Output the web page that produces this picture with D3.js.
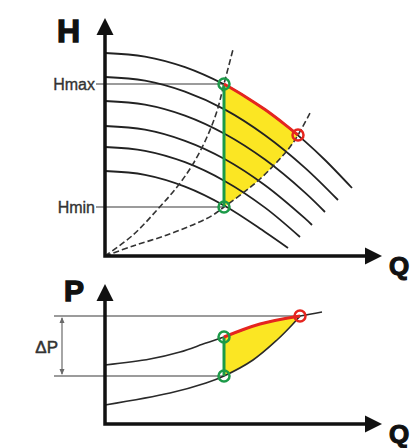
<!DOCTYPE html>
<html>
<head>
<meta charset="utf-8">
<script src="https://cdn.jsdelivr.net/npm/d3@7"></script>
<style>
  body { margin: 0; background: #fff; }
  text { font-family: "Liberation Sans", Arial, sans-serif; }
</style>
</head>
<body>
<div id="chart"></div>
<script>
// pump curves at six speeds, [Q, H]
var speedCurves = [
    [[0, 10.15], [2, 9.97], [4, 9.44], [6, 8.56], [7, 7.98], [8, 7.32], [9, 6.57], [10, 5.73], [11, 4.8], [12.35, 3.4]],
    [[0, 8.95], [2, 8.77], [4, 8.22], [6, 7.32], [8, 6.04], [10, 4.41], [11.65, 2.8]],
    [[0, 7.75], [2, 7.57], [4, 7.02], [6, 6.10], [8, 4.82], [10, 3.17], [11.0, 2.2]],
    [[0, 6.5], [2, 6.32], [4, 5.76], [6, 4.84], [8, 3.54], [10, 1.88], [10.35, 1.55]],
    [[0, 5.45], [2, 5.26], [4, 4.69], [6, 3.74], [8, 2.42], [9.75, 0.95]],
    [[0, 4.25], [2, 4.06], [4, 3.47], [6, 2.5], [8, 1.2], [9.15, 0.4]]
];
// system curves (dashed)
var steepSystem = [[0, 0], [1.4, 1.05], [2.6, 2.3], [3.6, 3.45], [4.4, 4.6], [5.1, 5.95], [5.6, 7.25], [5.95, 8.6], [6.42, 10.4]];
var flatSystem = [[0, 0], [1.4, 0.5], [3.1, 1.05], [4.6, 1.65], [5.4, 2.05], [5.95, 2.45], [6.9, 3.15], [7.75, 3.85], [8.6, 4.7], [9.25, 5.45], [9.65, 6.05], [10.25, 7.15]];
// max speed arc between Hmax point and red point
var maxArc = [[5.95, 8.6], [7, 7.98], [8, 7.32], [9, 6.57], [9.65, 6.05]];
var hmaxPt = [5.95, 8.6], hminPt = [5.95, 2.45], redPt = [9.65, 6.05];
var hLabels = ["Hmax", "Hmin"];

// power curves, [Q, P]
var powerMax = [[0, 2.95], [2.25, 3.25], [3.75, 3.6], [5.05, 4.05], [5.95, 4.35], [7.75, 5.0], [9.75, 5.4], [10.85, 5.6]];
var powerMin = [[0, 0.95], [3.25, 1.55], [5.05, 2.05], [5.95, 2.4], [7.4, 3.2], [8.6, 4.2], [9.35, 4.95], [9.75, 5.4]];
var pTopPt = [5.95, 4.35], pBotPt = [5.95, 2.4], pRedPt = [9.75, 5.4];

var GREEN = "#1c9a48", RED = "#e5251f", YELLOW = "#fbe623";

var svg = d3.select("#chart").append("svg")
    .attr("width", 412)
    .attr("height", 448);

var x = d3.scaleLinear().domain([0, 13]).range([105, 365]);
var yH = d3.scaleLinear().domain([0, 11]).range([256, 36]);
var yP = d3.scaleLinear().domain([0, 7]).range([424, 284]);

function lineFor(y) {
    return d3.line()
        .x(function(d) { return x(d[0]); })
        .y(function(d) { return y(d[1]); })
        .curve(d3.curveCatmullRom.alpha(0.5));
}
var lineH = lineFor(yH), lineP = lineFor(yP);

function inRange(arr, a, b) {
    return arr.filter(function(d) { return d[0] >= a[0] && d[0] <= b[0]; });
}

// ---------- top chart ----------
var gTop = svg.append("g");

// yellow operating area
var yellowTop = lineH(inRange(flatSystem, hminPt, redPt)) +
    lineH(maxArc.slice().reverse()).replace(/^M/, "L") + "Z";
gTop.append("path").attr("d", yellowTop).attr("fill", YELLOW);

// Hmax / Hmin lines
[hmaxPt, hminPt].forEach(function(p, i) {
    gTop.append("line")
        .attr("x1", x(0) - 9).attr("x2", x(p[0]))
        .attr("y1", yH(p[1])).attr("y2", yH(p[1]))
        .attr("stroke", "#7a7a7a").attr("stroke-width", 1.6);
    gTop.append("text")
        .attr("x", x(0) - 10).attr("y", yH(p[1]) + 6)
        .attr("text-anchor", "end")
        .attr("font-size", 16)
        .attr("fill", "#333")
        .attr("stroke", "#333").attr("stroke-width", 0.35)
        .text(hLabels[i]);
});

gTop.selectAll(".speed")
    .data(speedCurves)
    .enter().append("path")
    .attr("d", lineH)
    .attr("fill", "none")
    .attr("stroke", "#222")
    .attr("stroke-width", 1.8);

gTop.selectAll(".sys")
    .data([steepSystem, flatSystem])
    .enter().append("path")
    .attr("d", lineH)
    .attr("fill", "none")
    .attr("stroke", "#333")
    .attr("stroke-width", 1.6)
    .attr("stroke-dasharray", "6,3");

gTop.append("line")
    .attr("x1", x(hmaxPt[0])).attr("x2", x(hminPt[0]))
    .attr("y1", yH(hmaxPt[1])).attr("y2", yH(hminPt[1]))
    .attr("stroke", GREEN).attr("stroke-width", 3);
gTop.append("path")
    .attr("d", lineH(maxArc))
    .attr("fill", "none").attr("stroke", RED).attr("stroke-width", 3);

gTop.selectAll(".pt")
    .data([[hmaxPt, GREEN], [hminPt, GREEN], [redPt, RED]])
    .enter().append("circle")
    .attr("cx", function(d) { return x(d[0][0]); })
    .attr("cy", function(d) { return yH(d[0][1]); })
    .attr("r", 5.5)
    .attr("fill", "none")
    .attr("stroke", function(d) { return d[1]; })
    .attr("stroke-width", 2.5);

// ---------- bottom chart ----------
var gBot = svg.append("g");

var yellowBot = lineP(inRange(powerMin, pBotPt, pRedPt)) +
    lineP(inRange(powerMax, pTopPt, pRedPt).reverse()).replace(/^M/, "L") + "Z";
gBot.append("path").attr("d", yellowBot).attr("fill", YELLOW);

// delta P reference lines
[pRedPt, pBotPt].forEach(function(p) {
    gBot.append("line")
        .attr("x1", 54).attr("x2", x(p[0]))
        .attr("y1", yP(p[1])).attr("y2", yP(p[1]))
        .attr("stroke", "#7a7a7a").attr("stroke-width", 1.6);
});
var dimX = 62, dTop = yP(pRedPt[1]), dBot = yP(pBotPt[1]);
gBot.append("line")
    .attr("x1", dimX).attr("x2", dimX)
    .attr("y1", dTop + 2).attr("y2", dBot - 2)
    .attr("stroke", "#6a6a6a").attr("stroke-width", 1.2);
gBot.append("path")
    .attr("d", "M" + dimX + "," + (dTop + 1) + "l-2.5,6h5z M" + dimX + "," + (dBot - 1) + "l-2.5,-6h5z")
    .attr("fill", "#6a6a6a");
gBot.append("text")
    .attr("x", 58).attr("y", (dTop + dBot) / 2 + 7)
    .attr("text-anchor", "end")
    .attr("font-size", 17)
    .attr("fill", "#333")
    .attr("stroke", "#333").attr("stroke-width", 0.5)
    .text("ΔP");

gBot.selectAll(".pw")
    .data([powerMax, powerMin])
    .enter().append("path")
    .attr("d", lineP)
    .attr("fill", "none")
    .attr("stroke", "#2a2a2a")
    .attr("stroke-width", 1.6);

gBot.append("line")
    .attr("x1", x(pTopPt[0])).attr("x2", x(pBotPt[0]))
    .attr("y1", yP(pTopPt[1])).attr("y2", yP(pBotPt[1]))
    .attr("stroke", GREEN).attr("stroke-width", 3);
gBot.append("path")
    .attr("d", lineP(inRange(powerMax, pTopPt, pRedPt)))
    .attr("fill", "none").attr("stroke", RED).attr("stroke-width", 3);

gBot.selectAll(".pt")
    .data([[pTopPt, GREEN], [pBotPt, GREEN], [pRedPt, RED]])
    .enter().append("circle")
    .attr("cx", function(d) { return x(d[0][0]); })
    .attr("cy", function(d) { return yP(d[0][1]); })
    .attr("r", 5.5)
    .attr("fill", "none")
    .attr("stroke", function(d) { return d[1]; })
    .attr("stroke-width", 2.5);

// ---------- axes with arrows ----------
function drawAxes(g, y, yTip, label, labelX, labelY) {
    var ox = x(0), oy = y(0);
    var tipY = y(yTip), tipX = x(13.85);
    g.append("path")
        .attr("d", "M" + ox + "," + (tipY + 14) + "V" + oy + "H" + (tipX - 14))
        .attr("fill", "none").attr("stroke", "#111").attr("stroke-width", 3.5)
        .attr("stroke-linejoin", "miter");
    g.append("path")
        .attr("d", "M" + ox + "," + tipY + "l-8.5,17h17z")
        .attr("fill", "#111");
    g.append("path")
        .attr("d", "M" + tipX + "," + oy + "l-17,-8.5v17z")
        .attr("fill", "#111");
    g.append("text")
        .attr("x", labelX).attr("y", labelY)
        .attr("font-size", label == "H" ? 32 : 30)
        .attr("font-weight", "bold")
        .attr("fill", "#111")
        .attr("stroke", "#111").attr("stroke-width", 1.4)
        .text(label);
    g.append("text")
        .attr("x", 389).attr("y", oy + 19)
        .attr("font-size", 26)
        .attr("font-weight", "bold")
        .attr("fill", "#111")
        .attr("stroke", "#111").attr("stroke-width", 1.2)
        .text("Q");
}
drawAxes(gTop, yH, 11.9, "H", 57, 42);
drawAxes(gBot, yP, 7.0, "P", 64, 301);
</script>
</body>
</html>
